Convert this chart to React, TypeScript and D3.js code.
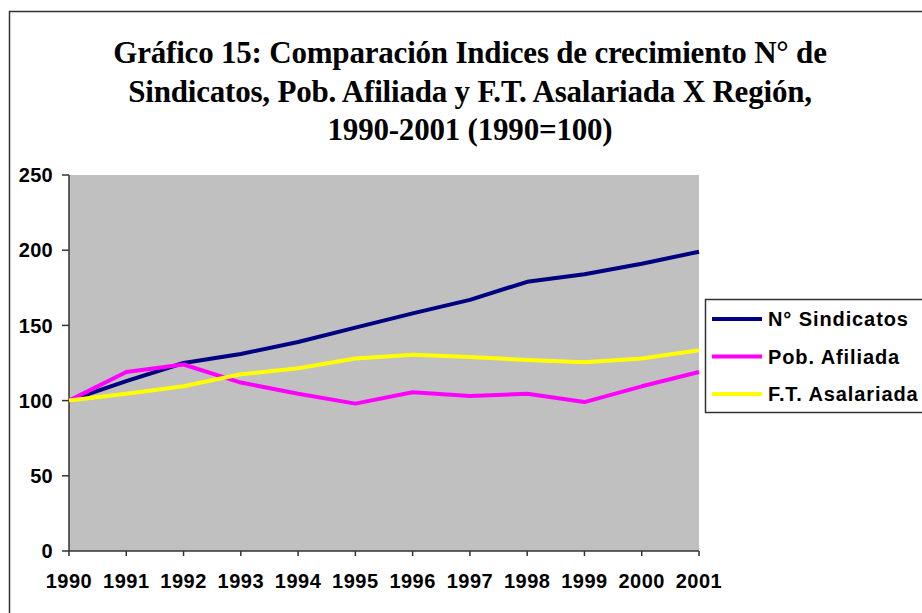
import React from 'react';
import * as d3 from 'd3';

const years = ['1990', '1991', '1992', '1993', '1994', '1995', '1996', '1997', '1998', '1999', '2000', '2001'];
const sindicatos = [100, 113, 125, 131, 139, 148.5, 158, 167, 179, 184, 191, 199];
const afiliada = [100, 119, 124, 112, 104.5, 98, 105.5, 103, 104.5, 99, 109.5, 119];
const asalariada = [100, 104.5, 109.5, 117.5, 121.5, 128, 130.5, 129, 127, 125.5, 128, 133.5];
const yTicks = [0, 50, 100, 150, 200, 250];
const titleLines = [
  'Gráfico 15: Comparación Indices de crecimiento N° de',
  'Sindicatos, Pob. Afiliada y F.T. Asalariada X Región,',
  '1990-2001 (1990=100)'
];

const series = [
  { name: 'N° Sindicatos', values: sindicatos, color: '#000080' },
  { name: 'Pob. Afiliada', values: afiliada, color: '#FF00FF' },
  { name: 'F.T. Asalariada', values: asalariada, color: '#FFFF00' }
];

const width = 922;
const height = 613;
const plot = { left: 69, right: 699, top: 175, bottom: 551 };

// echelles
const x = d3.scalePoint<string>().domain(years).range([plot.left, plot.right]);
const y = d3.scaleLinear().domain([0, 250]).range([plot.bottom, plot.top]);

const line = d3
  .line<number>()
  .x((d, i) => x(years[i]) as number)
  .y(d => y(d));

const axisFont = '"Liberation Sans", Arial, sans-serif';

export default function App() {
  return (
    <svg width={width} height={height} style={{ position: 'absolute', left: 0, top: 0 }}>
      <rect x={0} y={0} width={width} height={height} fill="#fff" />
      <rect x={9.5} y={11.5} width={width + 20} height={height + 20} fill="none" stroke="#333" strokeWidth={1.5} />

      {titleLines.map((t, i) => (
        <text
          key={i}
          x={470}
          y={63 + i * 38.5}
          textAnchor="middle"
          fontFamily='"Liberation Serif", "Times New Roman", serif'
          fontWeight="bold"
          fontSize={31}
          letterSpacing={-0.2}
          fill="#000"
        >
          {t}
        </text>
      ))}

      <rect x={plot.left} y={plot.top} width={plot.right - plot.left} height={plot.bottom - plot.top} fill="#C0C0C0" />

      {/* axe Y */}
      <line x1={plot.left} x2={plot.left} y1={plot.top} y2={plot.bottom} stroke="#333" strokeWidth={1.5} />
      {yTicks.map(v => (
        <g key={v}>
          <line x1={plot.left - 7} x2={plot.left} y1={y(v)} y2={y(v)} stroke="#333" strokeWidth={1.5} />
          <text
            x={53}
            y={y(v)}
            dy="0.36em"
            textAnchor="end"
            fontFamily={axisFont}
            fontWeight="bold"
            fontSize={20}
            letterSpacing={0.3}
            fill="#000"
          >
            {v}
          </text>
        </g>
      ))}

      {/* axe X */}
      <line x1={plot.left} x2={plot.right} y1={plot.bottom} y2={plot.bottom} stroke="#333" strokeWidth={1.5} />
      {years.map(yr => (
        <g key={yr}>
          <line x1={x(yr)} x2={x(yr)} y1={plot.bottom} y2={plot.bottom + 5} stroke="#333" strokeWidth={1.5} />
          <text
            x={x(yr)}
            y={588}
            textAnchor="middle"
            fontFamily={axisFont}
            fontWeight="bold"
            fontSize={20}
            letterSpacing={0.5}
            fill="#000"
          >
            {yr}
          </text>
        </g>
      ))}

      {series.map(s => (
        <path key={s.name} d={line(s.values) || ''} fill="none" stroke={s.color} strokeWidth={4} strokeLinejoin="round" />
      ))}

      {/* legende */}
      <rect x={705.5} y={299.5} width={260} height={113} fill="#fff" stroke="#333" strokeWidth={1.5} />
      {series.map((s, i) => (
        <g key={s.name}>
          <line x1={712} x2={762} y1={319 + i * 37.5} y2={319 + i * 37.5} stroke={s.color} strokeWidth={4} />
          <text
            x={768}
            y={319 + i * 37.5}
            dy="0.36em"
            fontFamily={axisFont}
            fontWeight="bold"
            fontSize={20}
            letterSpacing={0.9}
            fill="#000"
          >
            {s.name}
          </text>
        </g>
      ))}
    </svg>
  );
}
